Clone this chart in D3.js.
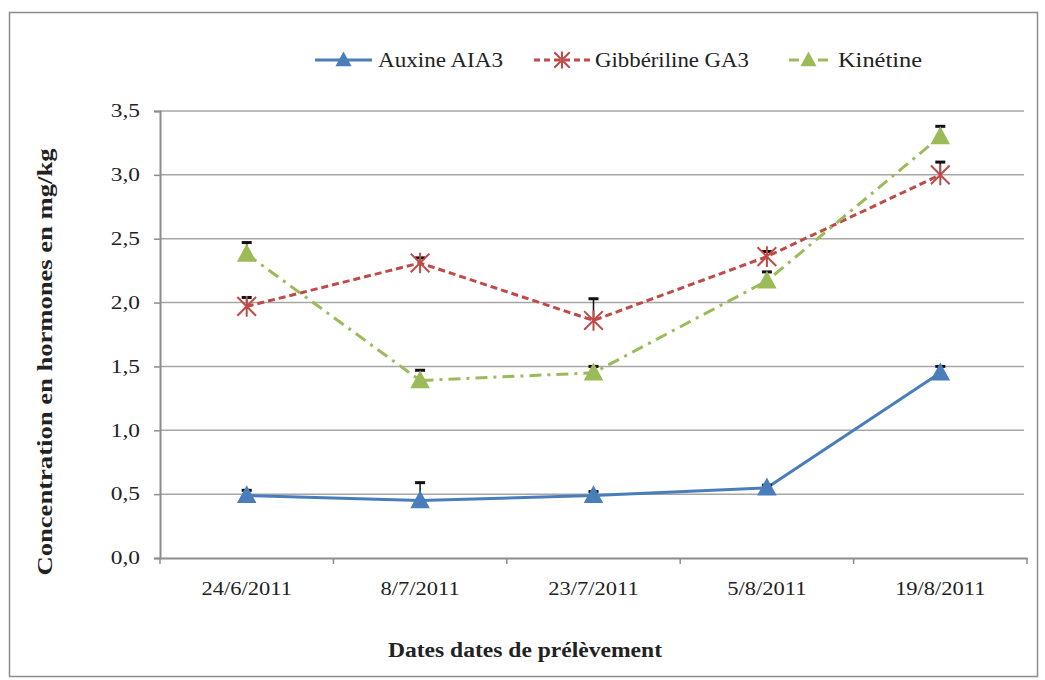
<!DOCTYPE html>
<html>
<head>
<meta charset="utf-8">
<script src="https://cdn.jsdelivr.net/npm/d3@7"></script>
<style>
  html, body { margin: 0; padding: 0; background: #fff; }
  svg { display: block; }
  svg text { font-family: "Liberation Serif", "Times New Roman", serif !important; fill: #222; }
</style>
</head>
<body>
<svg id="chart" width="1045" height="680"></svg>
<script>
// Sampling dates
const dates = ["24/6/2011", "8/7/2011", "23/7/2011", "5/8/2011", "19/8/2011"];

// Hormone concentrations (mg/kg)
const auxine = [0.49, 0.45, 0.49, 0.55, 1.45];
const gibberiline = [1.97, 2.31, 1.86, 2.36, 3.00];
const kinetine = [2.38, 1.39, 1.45, 2.17, 3.30];

// Upper error bar lengths (mg/kg)
const auxineErr = [0.04, 0.14, 0.03, 0.02, 0.05];
const gibberilineErr = [0.07, 0.04, 0.17, 0.04, 0.10];
const kinetineErr = [0.09, 0.08, 0.05, 0.07, 0.08];

const yTicks = [0, 0.5, 1.0, 1.5, 2.0, 2.5, 3.0, 3.5];

const series = [
  { name: "Auxine AIA3", values: auxine, err: auxineErr, color: "#4A7EBB", dash: null, marker: "triangle" },
  { name: "Gibbériline GA3", values: gibberiline, err: gibberilineErr, color: "#BE4B48", dash: "7,4", marker: "star" },
  { name: "Kinétine", values: kinetine, err: kinetineErr, color: "#9BBB59", dash: "12,6,3,6", marker: "triangle" }
];

const svg = d3.select("#chart");
const SERIF = "Liberation Serif, Times New Roman, serif";

// Outer frame
svg.append("rect")
  .attr("x", 9.5).attr("y", 12.5)
  .attr("width", 1028).attr("height", 664)
  .attr("fill", "#fff").attr("stroke", "#8c8c8c").attr("stroke-width", 1.5);

const plot = { left: 160, right: 1027, top: 111, bottom: 558 };

const x = d3.scaleBand().domain(dates).range([plot.left, plot.right]);
const y = d3.scaleLinear().domain([0, 3.5]).range([plot.bottom, plot.top]);
const cx = d => x(d) + x.bandwidth() / 2;

// Horizontal gridlines
svg.append("g")
  .selectAll("line")
  .data(yTicks.filter(t => t > 0))
  .join("line")
  .attr("x1", plot.left).attr("x2", plot.right - 3)
  .attr("y1", d => y(d)).attr("y2", d => y(d))
  .attr("stroke", "#a6a6a6").attr("stroke-width", 1.5);

// Y axis
const yAxis = svg.append("g")
  .attr("transform", `translate(${plot.left},0)`)
  .call(d3.axisLeft(y).tickValues(yTicks).tickSize(6).tickPadding(0)
    .tickFormat(d => d3.format(".1f")(d).replace(".", ",")));
yAxis.attr("font-family", SERIF);
yAxis.select(".domain").attr("stroke", "#8c8c8c").attr("stroke-width", 2);
yAxis.selectAll(".tick line").attr("stroke", "#8c8c8c").attr("stroke-width", 1.5);
yAxis.selectAll(".tick text")
  .attr("x", 0)
  .attr("font-size", 18).attr("fill", "#222")
  .attr("transform", "translate(-20,0) scale(1.3,1)");

// X axis with separator ticks between categories
const xAxis = svg.append("g")
  .attr("transform", `translate(0,${plot.bottom})`)
  .call(d3.axisBottom(x).tickSize(0).tickPadding(24));
xAxis.attr("font-family", SERIF);
xAxis.select(".domain").attr("stroke", "#8c8c8c").attr("stroke-width", 2);
xAxis.selectAll(".tick text")
  .attr("font-size", 18).attr("fill", "#222")
  .attr("transform", "scale(1.25,1)");
const bounds = dates.map(d => x(d)).concat([plot.right]);
xAxis.append("g").selectAll("line")
  .data(bounds)
  .join("line")
  .attr("x1", d => d).attr("x2", d => d)
  .attr("y1", 0).attr("y2", 6)
  .attr("stroke", "#8c8c8c").attr("stroke-width", 1.5);

// Axis titles
svg.append("text")
  .attr("x", 525).attr("y", 657)
  .attr("text-anchor", "middle")
  .attr("font-family", SERIF)
  .attr("font-size", 20).attr("font-weight", "bold")
  .attr("textLength", 274).attr("lengthAdjust", "spacingAndGlyphs")
  .text("Dates dates de prélèvement");

svg.append("text")
  .attr("transform", "translate(52,362) rotate(-90)")
  .attr("text-anchor", "middle")
  .attr("font-family", SERIF)
  .attr("font-size", 20).attr("font-weight", "bold")
  .attr("textLength", 427).attr("lengthAdjust", "spacingAndGlyphs")
  .text("Concentration en hormones en mg/kg");

// Marker drawing
function drawMarker(g, type, color, size) {
  if (type === "triangle") {
    const h = size, w = size * 1.15;
    g.append("path")
      .attr("d", `M0,${-h * 0.6} L${w / 2},${h * 0.45} L${-w / 2},${h * 0.45} Z`)
      .attr("fill", color);
  } else {
    const r = size * 0.55;
    const p = `M${-r},${-r} L${r},${r} M${-r},${r} L${r},${-r} M0,${-r * 1.1} L0,${r * 1.1}`;
    g.append("path").attr("d", p)
      .attr("stroke", color).attr("stroke-width", 2).attr("fill", "none");
  }
}

const line = d3.line().x((d, i) => cx(dates[i])).y(d => y(d));

series.forEach(s => {
  const g = svg.append("g");
  g.append("path")
    .datum(s.values)
    .attr("d", line)
    .attr("fill", "none")
    .attr("stroke", s.color)
    .attr("stroke-width", 3)
    .attr("stroke-dasharray", s.dash);

  // Upper error bars
  s.values.forEach((v, i) => {
    const px = cx(dates[i]);
    g.append("line")
      .attr("x1", px).attr("x2", px)
      .attr("y1", y(v)).attr("y2", y(v + s.err[i]))
      .attr("stroke", "#111").attr("stroke-width", 1.5);
    g.append("line")
      .attr("x1", px - 5).attr("x2", px + 5)
      .attr("y1", y(v + s.err[i])).attr("y2", y(v + s.err[i]))
      .attr("stroke", "#111").attr("stroke-width", 3);
  });

  // Markers
  s.values.forEach((v, i) => {
    const m = g.append("g").attr("transform", `translate(${cx(dates[i])},${y(v)})`);
    drawMarker(m, s.marker, s.color, 17);
  });
});

// Legend
const legendItems = [
  { s: series[0], x0: 315, x1: 372, tx: 378, w: 125, dash: null },
  { s: series[1], x0: 534, x1: 590, tx: 595, w: 154, dash: "6,4" },
  { s: series[2], x0: 789, x1: 828, tx: 838, w: 84, dash: "10,19,10" }
];
const legendY = 60;
legendItems.forEach(it => {
  const g = svg.append("g");
  g.append("line")
    .attr("x1", it.x0).attr("x2", it.x1)
    .attr("y1", legendY).attr("y2", legendY)
    .attr("stroke", it.s.color).attr("stroke-width", 3)
    .attr("stroke-dasharray", it.dash);
  const m = g.append("g").attr("transform", `translate(${(it.x0 + it.x1) / 2},${legendY})`);
  drawMarker(m, it.s.marker, it.s.color, 14);
  g.append("text")
    .attr("x", it.tx).attr("y", legendY + 7)
    .attr("font-family", SERIF)
    .attr("font-size", 21)
    .attr("textLength", it.w).attr("lengthAdjust", "spacingAndGlyphs")
    .text(it.s.name);
});
</script>
</body>
</html>
